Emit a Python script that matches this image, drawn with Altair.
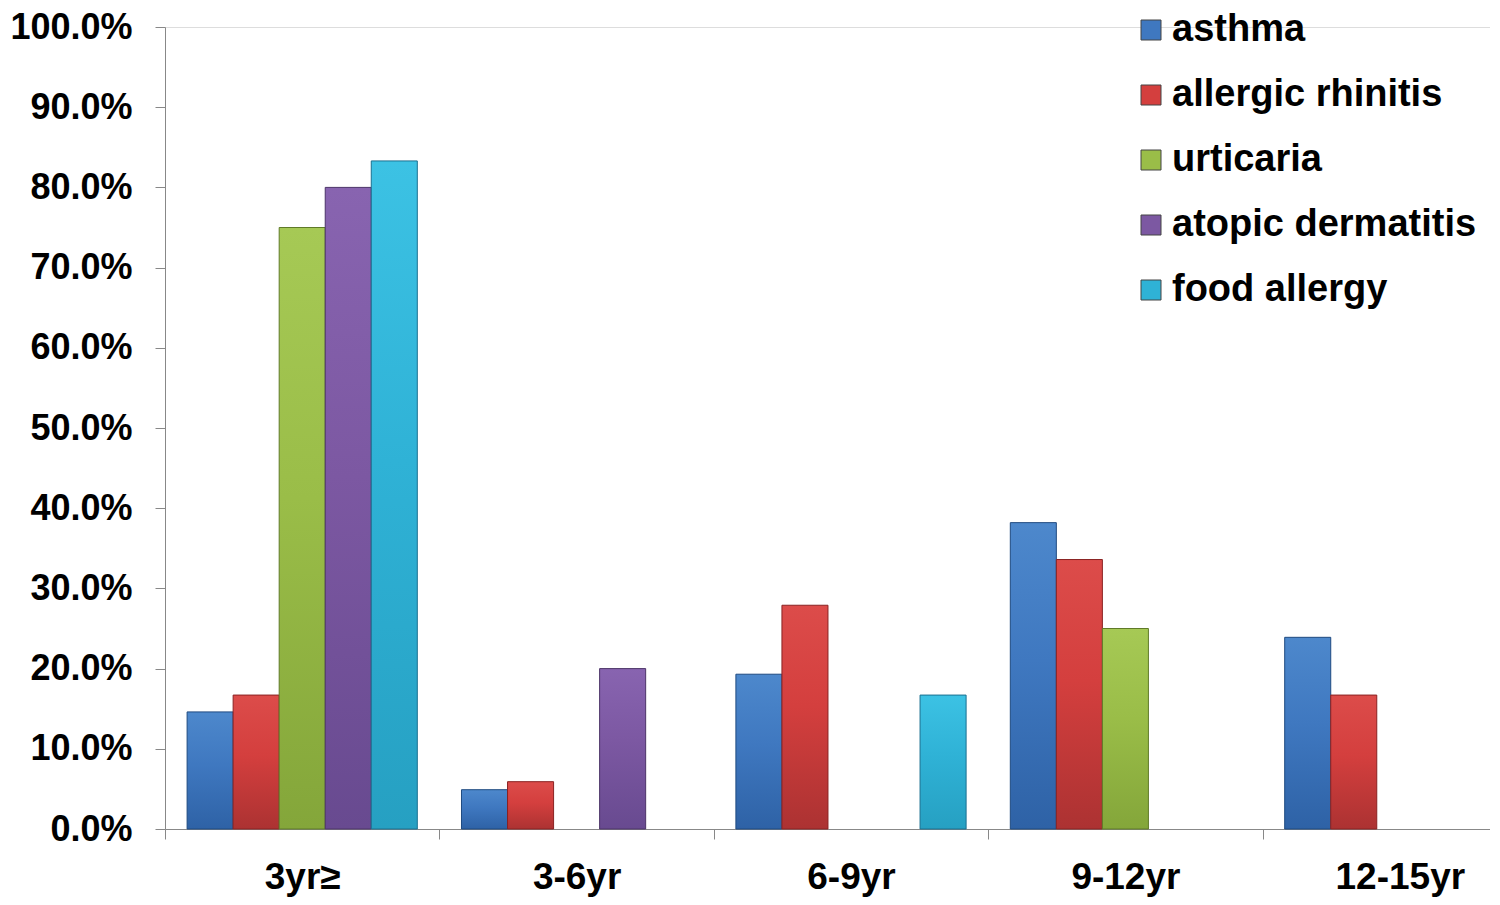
import altair as alt
import pandas as pd

groups = ["3yr≥", "3-6yr", "6-9yr", "9-12yr", "12-15yr"]
series = ["asthma", "allergic rhinitis", "urticaria", "atopic dermatitis", "food allergy"]
asthma = [0.146, 0.049, 0.193, 0.382, 0.239]
allergic_rhinitis = [0.167, 0.059, 0.279, 0.336, 0.167]
urticaria = [0.750, 0.0, 0.0, 0.250, 0.0]
atopic_dermatitis = [0.800, 0.200, 0.0, 0.0, 0.0]
food_allergy = [0.833, 0.0, 0.167, 0.0, 0.0]

fills = ["#3f78c0", "#d43f3e", "#9abd48", "#7c58a2", "#2fb2d6"]
tops = ["#4d88cc", "#dc4c4a", "#a6c955", "#8864b0", "#3cc2e4"]
bottoms = ["#2e62a6", "#ac3232", "#84a63a", "#684a90", "#26a0c2"]
strokes = ["#1f4a80", "#8a2222", "#5f7a28", "#4c3468", "#1a7090"]

rows = []
for name, vals in zip(series, [asthma, allergic_rhinitis, urticaria, atopic_dermatitis, food_allergy]):
    for g, v in zip(groups, vals):
        rows.append({"group": g, "series": name, "value": v})
df = pd.DataFrame(rows)

font = "Liberation Sans"

# the source chart's category axis runs past the right edge of the picture
x_enc = alt.X("group:N", sort=groups, title=None,
              scale=alt.Scale(paddingInner=0, paddingOuter=0, range=[0, 1372]),
              axis=alt.Axis(labelAngle=0, labelFontSize=37, labelFont=font, labelFontWeight="bold",
                            labelColor="black", tickBand="extent", tickSize=10, tickColor="#888888",
                            domainColor="#888888", labelPadding=20, grid=False))
xo_enc = alt.XOffset("series:N", sort=series,
                     scale=alt.Scale(domain=series, paddingInner=0, paddingOuter=0.48))
y_enc = alt.Y("value:Q", title=None,
              scale=alt.Scale(domain=[0, 1], nice=False),
              axis=alt.Axis(format=".1%", values=[i / 10 for i in range(11)], labelFontSize=36,
                            labelFont=font, labelFontWeight="bold", labelColor="black",
                            tickSize=10, tickColor="#888888", domainColor="#888888",
                            labelPadding=23, grid=False))

base = alt.Chart(df).transform_filter("datum.value > 0")

layers = []
for i, name in enumerate(series):
    grad = alt.Gradient(gradient="linear",
                        stops=[alt.GradientStop(color=tops[i], offset=0),
                               alt.GradientStop(color=fills[i], offset=0.45),
                               alt.GradientStop(color=bottoms[i], offset=1)],
                        x1=0, x2=0, y1=0, y2=1)
    layers.append(
        base.transform_filter(alt.datum.series == name)
        .mark_bar(fill=grad, stroke=strokes[i], strokeWidth=1)
        .encode(x=x_enc, xOffset=xo_enc, y=y_enc)
    )

legend_layer = base.mark_bar(opacity=0).encode(
    x=x_enc, xOffset=xo_enc, y=y_enc,
    color=alt.Color("series:N", sort=series, scale=alt.Scale(domain=series, range=fills),
                    legend=alt.Legend(title=None, orient="none", legendX=967, legendY=-16,
                                      symbolType="square", symbolSize=400, symbolStrokeWidth=1,
                                      symbolOpacity=1, symbolStrokeColor="#444444",
                                      labelFontSize=38, labelFont=font, labelFontWeight="bold",
                                      labelColor="black", rowPadding=27, labelOffset=2,
                                      padding=0, labelLimit=600)),
)

chart = alt.layer(*layers, legend_layer).properties(
    width=1325, height=802,
    padding={"left": 157, "top": 19, "right": 0, "bottom": 68},
    autosize=alt.AutoSizeParams(type="none"),
).configure_view(stroke=None).configure(background="white")

chart.save("out.html", embed_options={"renderer": "svg", "actions": False})
